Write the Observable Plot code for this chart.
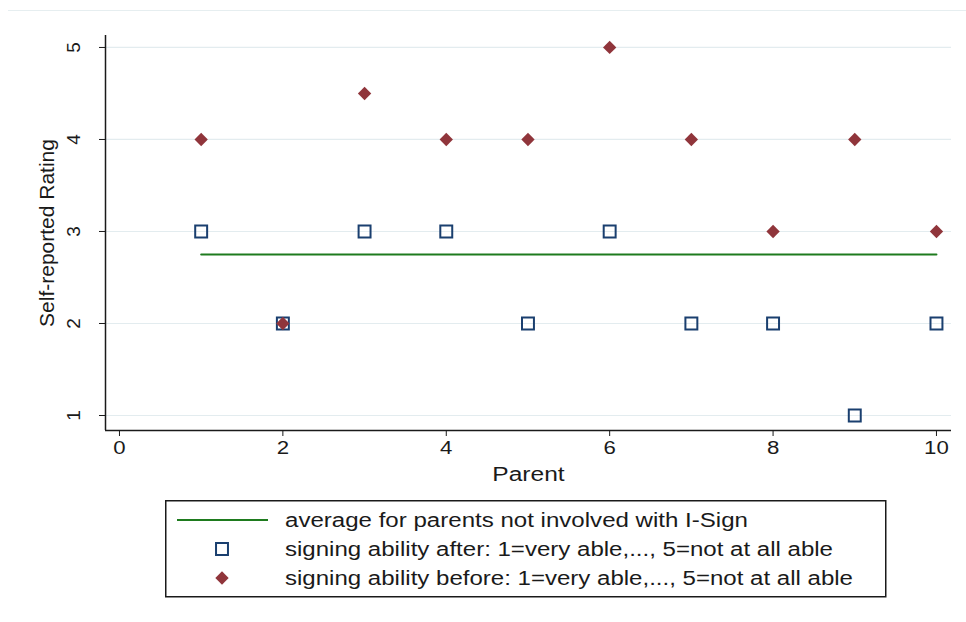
<!DOCTYPE html>
<html>
<head>
<meta charset="utf-8">
<script src="https://cdn.jsdelivr.net/npm/d3@7"></script>
<script src="https://cdn.jsdelivr.net/npm/@observablehq/plot@0.6"></script>
<style>
  html, body { margin: 0; padding: 0; background: #fff; }
  body { font-family: "Liberation Sans", Arial, sans-serif; color: #1a1a1a; }
  #wrap { position: relative; width: 966px; height: 622px; overflow: hidden; }
  #topline { position: absolute; left: 8px; right: 0; top: 10px; border-top: 1.5px solid #e6eef0; }
  #chart { position: absolute; left: 0; top: 0; }
  #legend { position: absolute; left: 165px; top: 500px; }
</style>
</head>
<body>
<div id="wrap">
  <div id="topline"></div>
  <div id="chart"></div>
  <div id="legend"></div>
</div>
<script>
// ---- data ----
const parents = [1, 2, 3, 4, 5, 6, 7, 8, 9, 10];
const ratingAfter = [3, 2, 3, 3, 2, 3, 2, 2, 1, 2];
const ratingBefore = [4, 2, 4.5, 4, 4, 5, 4, 3, 4, 3];
const avgNotInvolved = 2.75;
const avgRange = [1, 10];
const xTicks = [0, 2, 4, 6, 8, 10];
const yTicks = [1, 2, 3, 4, 5];
const xTitle = "Parent";
const yTitle = "Self-reported Rating";
const seriesLabels = [
  "average for parents not involved with I-Sign",
  "signing ability after: 1=very able,..., 5=not at all able",
  "signing ability before: 1=very able,..., 5=not at all able"
];
const colors = { avg: "#1e7b1e", after: "#1a3f6f", before: "#90353b" };

const afterData = parents.map((p, i) => ({ parent: p, rating: ratingAfter[i] }));
const beforeData = parents.map((p, i) => ({ parent: p, rating: ratingBefore[i] }));
const avgData = avgRange.map(p => ({ parent: p, rating: avgNotInvolved }));

const xDomain = [-0.171, 10.184];
const yDomain = [0.837, 5.13];
const stretch = 1.17; // horizontal stretch of the original's text rendering

const chart = Plot.plot({
  width: 966,
  height: 490,
  marginLeft: 105,
  marginRight: 15,
  marginTop: 35,
  marginBottom: 60,
  style: { fontFamily: "'Liberation Sans', Arial, sans-serif", fontSize: "19px", background: "transparent", color: "#1a1a1a" },
  x: { domain: xDomain },
  y: { domain: yDomain },
  marks: [
    Plot.gridY(yTicks, { stroke: "#e3ecef", strokeOpacity: 1, strokeWidth: 1.2 }),
    Plot.ruleX([xDomain[0]], { stroke: "#1a1a1a", strokeWidth: 1.5 }),
    Plot.ruleY([yDomain[0]], { stroke: "#1a1a1a", strokeWidth: 1.5 }),
    Plot.axisX(xTicks, { tickSize: 6, tickPadding: 4, tickFormat: d => String(d), label: xTitle, labelAnchor: "center", labelOffset: 50, labelArrow: "none", stroke: "#1a1a1a" }),
    Plot.axisY(yTicks, { tickSize: 6, tickPadding: 20, tickRotate: -90, tickFormat: d => String(d), label: yTitle, labelAnchor: "center", labelOffset: 66, labelArrow: "none", stroke: "#1a1a1a" }),
    Plot.line(avgData, { x: "parent", y: "rating", stroke: colors.avg, strokeWidth: 2 }),
    Plot.dot(afterData, { x: "parent", y: "rating", symbol: "square2", r: 7.6, stroke: colors.after, strokeWidth: 2, fill: "none" }),
    Plot.dot(beforeData, { x: "parent", y: "rating", symbol: "diamond2", r: 6, fill: colors.before, stroke: "none" })
  ]
});

const svg = d3.select(chart);
svg.selectAll("g[aria-label='x-axis tick label'] text, g[aria-label='y-axis tick label'] text")
  .style("font-size", "19px");
svg.selectAll("g[aria-label='x-axis label'] text, g[aria-label='y-axis label'] text")
  .style("font-size", "21px");
svg.selectAll("text").each(function () {
  const t = d3.select(this);
  const tr = t.attr("transform") || "";
  if (tr && !tr.includes("rotate")) t.attr("transform", tr + ` scale(${stretch},1)`);
});
document.getElementById("chart").appendChild(chart);

// ---- legend (SVG) ----
const lg = d3.select("#legend").append("svg")
  .attr("width", 722).attr("height", 98)
  .style("font-family", "'Liberation Sans', Arial, sans-serif");
lg.append("rect").attr("x", 0.75).attr("y", 0.75).attr("width", 720).attr("height", 96)
  .attr("fill", "#fff").attr("stroke", "#1a1a1a").attr("stroke-width", 1.5);
const rowCenters = [20, 49, 78];
const textLengths = [463, 548, 568];
seriesLabels.forEach((label, i) => {
  const cy = rowCenters[i];
  if (i === 0) {
    lg.append("line").attr("x1", 12).attr("x2", 103).attr("y1", cy).attr("y2", cy)
      .attr("stroke", colors.avg).attr("stroke-width", 2);
  } else if (i === 1) {
    lg.append("path").attr("transform", `translate(57,${cy})`)
      .attr("d", d3.symbol(d3.symbolSquare2, Math.PI * 7.6 * 7.6)())
      .attr("fill", "none").attr("stroke", colors.after).attr("stroke-width", 2);
  } else {
    lg.append("path").attr("transform", `translate(57,${cy})`)
      .attr("d", d3.symbol(d3.symbolDiamond2, Math.PI * 6 * 6)())
      .attr("fill", colors.before);
  }
  lg.append("text").attr("x", 120).attr("y", cy)
    .attr("dy", "0.36em").attr("font-size", 19.5).attr("fill", "#1a1a1a")
    .attr("textLength", textLengths[i]).attr("lengthAdjust", "spacingAndGlyphs")
    .text(label);
});
</script>
</body>
</html>
